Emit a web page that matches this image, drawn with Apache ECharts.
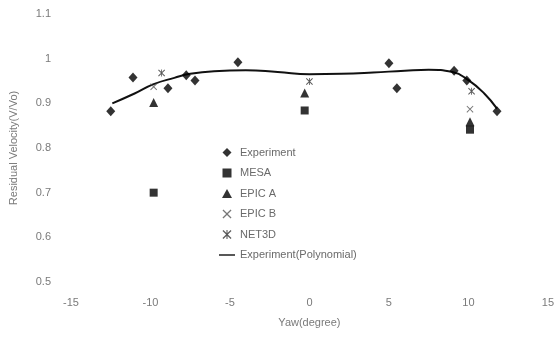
<!DOCTYPE html>
<html>
<head>
<meta charset="utf-8">
<script src="https://cdn.jsdelivr.net/npm/echarts@6/dist/echarts.min.js"></script>
<style>
  html, body { margin: 0; padding: 0; background: #fff; }
  #chart { width: 557px; height: 340px; }
</style>
</head>
<body>
<div id="chart"></div>
<script>
// 数据 (yaw, V/Vo)
var experiment = [
    [-12.5, 0.882], [-11.1, 0.958], [-8.9, 0.934], [-7.75, 0.963], [-7.2, 0.951],
    [-4.5, 0.992], [5.0, 0.990], [5.5, 0.934], [9.1, 0.973], [9.9, 0.951], [11.8, 0.882]
];
var mesa = [[-9.8, 0.70], [-0.3, 0.884], [10.1, 0.841]];
var epicA = [[-9.8, 0.902], [-0.3, 0.923], [10.1, 0.859]];
var epicB = [[-9.8, 0.937], [10.1, 0.887]];
var net3d = [[-9.3, 0.968], [0, 0.949], [10.2, 0.927]];
// 多项式拟合曲线
var polyCurve = [
    [-12.4, 0.900], [-11, 0.922], [-9.8, 0.943], [-8.5, 0.957], [-7.5, 0.966],
    [-6, 0.972], [-4, 0.974], [-2, 0.970], [0, 0.965], [2, 0.966], [4, 0.969],
    [6, 0.973], [7.5, 0.975], [9, 0.970], [10, 0.952], [11, 0.922], [11.8, 0.888]
];
var seriesNames = ['Experiment', 'MESA', 'EPIC A', 'EPIC B', 'NET3D', 'Experiment(Polynomial)'];

// 图标
var diamondPath = 'path://M5,0L10,5L5,10L0,5Z';
var rectPath = 'path://M0,0L10,0L10,10L0,10Z';
var trianglePath = 'path://M5,0L10,9L0,9Z';
var crossPath = 'path://M0,1L1,0L5,4L9,0L10,1L6,5L10,9L9,10L5,6L1,10L0,9L4,5Z';
var starPath = 'path://M0,1L1,0L5,4L9,0L10,1L6,5L10,9L9,10L5,6L1,10L0,9L4,5Z M4.4,0L5.6,0L5.6,10L4.4,10Z';
var linePath = 'path://M0,0L16,0L16,1.4L0,1.4Z';

var labelColor = '#7a7a7a';
var fontFamily = '"Liberation Sans", Arial, sans-serif';

var myChart = echarts.init(document.getElementById('chart'));
var option = {
    animation: false,
    backgroundColor: '#fff',
    grid: {
        left: 68,
        right: 9,
        top: 14,
        bottom: 58
    },
    legend: {
        orient: 'vertical',
        left: 214,
        top: 142,
        itemWidth: 16,
        itemHeight: 9,
        itemGap: 9.5,
        symbolKeepAspect: true,
        data: [
            { name: seriesNames[0], icon: diamondPath },
            { name: seriesNames[1], icon: rectPath },
            { name: seriesNames[2], icon: trianglePath },
            { name: seriesNames[3], icon: crossPath },
            { name: seriesNames[4], icon: starPath },
            { name: seriesNames[5], icon: linePath }
        ],
        textStyle: {
            color: '#6a6a6a',
            fontSize: 11,
            fontFamily: fontFamily
        }
    },
    xAxis: {
        type: 'value',
        min: -15,
        max: 15,
        interval: 5,
        name: 'Yaw(degree)',
        nameLocation: 'middle',
        nameGap: 35,
        nameTextStyle: { color: labelColor, fontSize: 11, fontFamily: fontFamily },
        axisLine: { show: false },
        axisTick: { show: false },
        splitLine: { show: false },
        axisLabel: { color: labelColor, fontSize: 11, margin: 15, fontFamily: fontFamily }
    },
    yAxis: {
        type: 'value',
        min: 0.5,
        max: 1.1,
        interval: 0.1,
        name: 'Residual Velocity(V/Vo)',
        nameLocation: 'middle',
        nameGap: 52,
        nameTextStyle: { color: labelColor, fontSize: 11, fontFamily: fontFamily },
        axisLine: { show: false },
        axisTick: { show: false },
        splitLine: { show: false },
        axisLabel: {
            color: labelColor,
            fontSize: 11,
            margin: 20,
            fontFamily: fontFamily,
            formatter: function (v) {
                return Math.round(v * 10) / 10 + '';
            }
        }
    },
    series: [
        {
            name: 'Experiment',
            type: 'scatter',
            symbol: 'diamond',
            symbolSize: [9, 10],
            itemStyle: { color: '#000' },
            data: experiment
        },
        {
            name: 'MESA',
            type: 'scatter',
            symbol: 'rect',
            symbolSize: 8,
            itemStyle: { color: '#000' },
            data: mesa
        },
        {
            name: 'EPIC A',
            type: 'scatter',
            symbol: 'triangle',
            symbolSize: [9, 9],
            itemStyle: { color: '#000' },
            data: epicA
        },
        {
            name: 'EPIC B',
            type: 'scatter',
            symbol: crossPath,
            symbolSize: 7,
            itemStyle: { color: '#555' },
            data: epicB
        },
        {
            name: 'NET3D',
            type: 'scatter',
            symbol: starPath,
            symbolSize: 7,
            itemStyle: { color: '#333' },
            data: net3d
        },
        {
            name: 'Experiment(Polynomial)',
            type: 'line',
            smooth: true,
            symbol: 'none',
            lineStyle: { color: '#111', width: 2 },
            itemStyle: { color: '#111' },
            data: polyCurve,
            z: 1
        }
    ]
};
myChart.setOption(option);
</script>
</body>
</html>
